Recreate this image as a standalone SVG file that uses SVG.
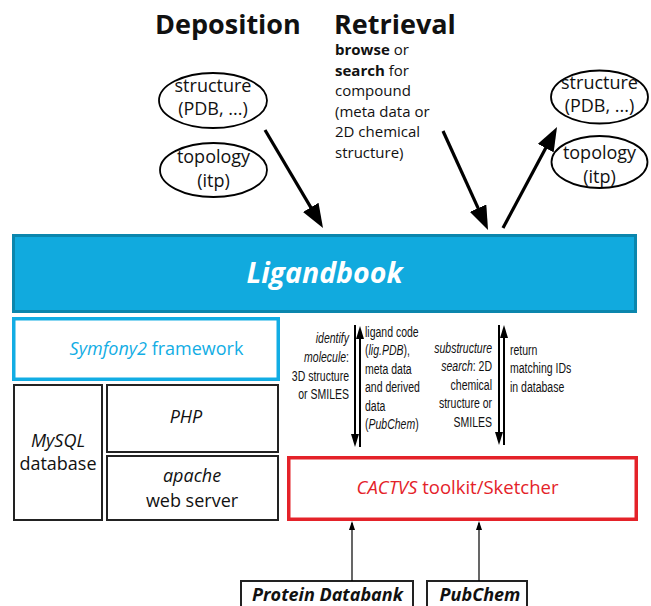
<svg xmlns="http://www.w3.org/2000/svg" width="651" height="606" viewBox="0 0 651 606">
<style>
  text { font-family: "Open Sans", "Noto Sans", "Liberation Sans", sans-serif; fill: #111; }
  .head { font-size: 27px; font-weight: bold; }
  .small { font-size: 15px; }
  .ell { font-size: 18px; text-anchor: middle; }
  .box { font-size: 18px; text-anchor: middle; }
  .cond { font-family: "Liberation Sans", Arial, sans-serif; font-size: 14px; }
  .it { font-style: italic; }
  .b { font-weight: bold; }
  ellipse { fill: #fff; stroke: #000; stroke-width: 1.8; }
  .blk { fill: #fff; stroke: #222; stroke-width: 2; }
  .big { stroke: #000; stroke-width: 3.2; fill: none; }
  .mid { stroke: #000; stroke-width: 2; fill: none; }
  .thin { stroke: #000; stroke-width: 1.2; fill: none; }
</style>
<defs>
  <marker id="bigHead" markerUnits="userSpaceOnUse" viewBox="0 0 24 18" refX="14" refY="9" markerWidth="24" markerHeight="18" orient="auto">
    <path d="M0,0 L24,9 L0,18 z" fill="#000"/>
  </marker>
  <marker id="midHead" markerUnits="userSpaceOnUse" viewBox="0 0 13 8" refX="9" refY="4" markerWidth="13" markerHeight="8" orient="auto">
    <path d="M0,0 L13,4 L0,8 z" fill="#000"/>
  </marker>
  <marker id="smallHead" markerUnits="userSpaceOnUse" viewBox="0 0 9 6" refX="7" refY="3" markerWidth="9" markerHeight="6" orient="auto">
    <path d="M0,0 L9,3 L0,6 z" fill="#000"/>
  </marker>
</defs>

<g id="titles">
  <text class="head" x="155" y="34">Deposition</text>
  <text class="head" x="334" y="34">Retrieval</text>
</g>

<g id="retrieval-note">
  <text class="small" x="335" y="55"><tspan class="b">browse</tspan> or</text>
  <text class="small" x="335" y="75.5"><tspan class="b">search</tspan> for</text>
  <text class="small" x="335" y="96">compound</text>
  <text class="small" x="335" y="116.5">(meta data or</text>
  <text class="small" x="335" y="137">2D chemical</text>
  <text class="small" x="335" y="157.5">structure)</text>
</g>

<g id="dep-structure">
  <ellipse cx="213" cy="100.5" rx="54" ry="27.5"/>
  <text class="ell" x="213" y="92">structure</text>
  <text class="ell" x="213" y="115">(PDB, ...)</text>
</g>
<g id="dep-topology">
  <ellipse cx="213.5" cy="170" rx="53.5" ry="27"/>
  <text class="ell" x="213.5" y="163">topology</text>
  <text class="ell" x="213.5" y="187">(itp)</text>
</g>
<g id="ret-structure">
  <ellipse cx="599.5" cy="97" rx="48.5" ry="26.5"/>
  <text class="ell" x="599.5" y="89">structure</text>
  <text class="ell" x="599.5" y="112">(PDB, ...)</text>
</g>
<g id="ret-topology">
  <ellipse cx="599.5" cy="162" rx="48" ry="26"/>
  <text class="ell" x="599.5" y="159">topology</text>
  <text class="ell" x="599.5" y="183">(itp)</text>
</g>

<g id="ligandbook">
  <rect x="13.5" y="235.5" width="622" height="76" fill="#11aade" stroke="#0b86ad" stroke-width="3"/>
  <text x="324.5" y="282.5" text-anchor="middle" font-size="28.5" font-weight="bold" font-style="italic" style="fill:#fff">Ligandbook</text>
</g>

<g id="symfony">
  <rect x="13.75" y="318.75" width="264.5" height="60.5" fill="#fff" stroke="#12ade4" stroke-width="3.5"/>
  <text class="box" x="156.5" y="355" style="fill:#12ade4"><tspan class="it">Symfony2</tspan> framework</text>
</g>

<g id="mysql">
  <rect class="blk" x="14" y="385" width="88" height="135"/>
  <text class="box it" x="58" y="447">MySQL</text>
  <text class="box" x="58" y="470">database</text>
</g>
<g id="php">
  <rect class="blk" x="107" y="385" width="171" height="67"/>
  <text class="box it" x="186" y="423">PHP</text>
</g>
<g id="apache">
  <rect class="blk" x="107" y="456" width="171" height="64"/>
  <text class="box it" x="192" y="482">apache</text>
  <text class="box" x="192" y="507">web server</text>
</g>

<g id="cactvs">
  <rect x="288.75" y="457.75" width="347.5" height="61.5" fill="#fff" stroke="#e42229" stroke-width="3.5"/>
  <text x="457.5" y="494" text-anchor="middle" font-size="18.5" style="fill:#e42229"><tspan class="it">CACTVS</tspan> toolkit/Sketcher</text>
</g>

<g id="pdb">
  <rect class="blk" x="241" y="581" width="172" height="40"/>
  <text x="327.5" y="600.5" text-anchor="middle" font-size="18" font-weight="bold" font-style="italic">Protein Databank</text>
</g>
<g id="pubchem">
  <rect class="blk" x="427" y="581" width="100" height="40"/>
  <text x="480" y="600.5" text-anchor="middle" font-size="18" font-weight="bold" font-style="italic">PubChem</text>
</g>

<g id="labels">
  <g transform="translate(349,0) scale(0.75,1)">
    <text class="cond it" x="0" y="343" text-anchor="end">identify</text>
    <text class="cond" x="0" y="362" text-anchor="end"><tspan class="it">molecule</tspan>:</text>
    <text class="cond" x="0" y="381" text-anchor="end">3D structure</text>
    <text class="cond" x="0" y="399.5" text-anchor="end">or  SMILES</text>
  </g>
  <g transform="translate(365,0) scale(0.75,1)">
    <text class="cond" x="0" y="337">ligand code</text>
    <text class="cond" x="0" y="355.5">(<tspan class="it">lig.PDB</tspan>),</text>
    <text class="cond" x="0" y="374">meta data</text>
    <text class="cond" x="0" y="392.5">and derived</text>
    <text class="cond" x="0" y="411">data</text>
    <text class="cond" x="0" y="429.5">(<tspan class="it">PubChem</tspan>)</text>
  </g>
  <g transform="translate(492,0) scale(0.75,1)">
    <text class="cond it" x="0" y="353" text-anchor="end">substructure</text>
    <text class="cond" x="0" y="371.5" text-anchor="end"><tspan class="it">search</tspan>:  2D</text>
    <text class="cond" x="0" y="390" text-anchor="end">chemical</text>
    <text class="cond" x="0" y="408.5" text-anchor="end">structure or</text>
    <text class="cond" x="0" y="427" text-anchor="end">SMILES</text>
  </g>
  <g transform="translate(510,0) scale(0.75,1)">
    <text class="cond" x="0" y="355">return</text>
    <text class="cond" x="0" y="373.5">matching IDs</text>
    <text class="cond" x="0" y="392">in database</text>
  </g>
</g>

<g id="connectors">
  <line class="big" x1="265" y1="130" x2="317.9" y2="219.4" marker-end="url(#bigHead)"/>
  <line class="big" x1="443" y1="131" x2="483.9" y2="220.9" marker-end="url(#bigHead)"/>
  <line class="big" x1="503" y1="228" x2="552.3" y2="135.8" marker-end="url(#bigHead)"/>
  <line class="mid" x1="355" y1="325" x2="355" y2="443" marker-end="url(#midHead)"/>
  <line class="mid" x1="360" y1="447" x2="360" y2="330" marker-end="url(#midHead)"/>
  <line class="mid" x1="499" y1="325" x2="499" y2="441" marker-end="url(#midHead)"/>
  <line class="mid" x1="504" y1="445" x2="504" y2="329" marker-end="url(#midHead)"/>
  <line class="thin" x1="352" y1="581" x2="352" y2="523" marker-end="url(#smallHead)"/>
  <line class="thin" x1="479" y1="581" x2="479" y2="523" marker-end="url(#smallHead)"/>
</g>
</svg>
